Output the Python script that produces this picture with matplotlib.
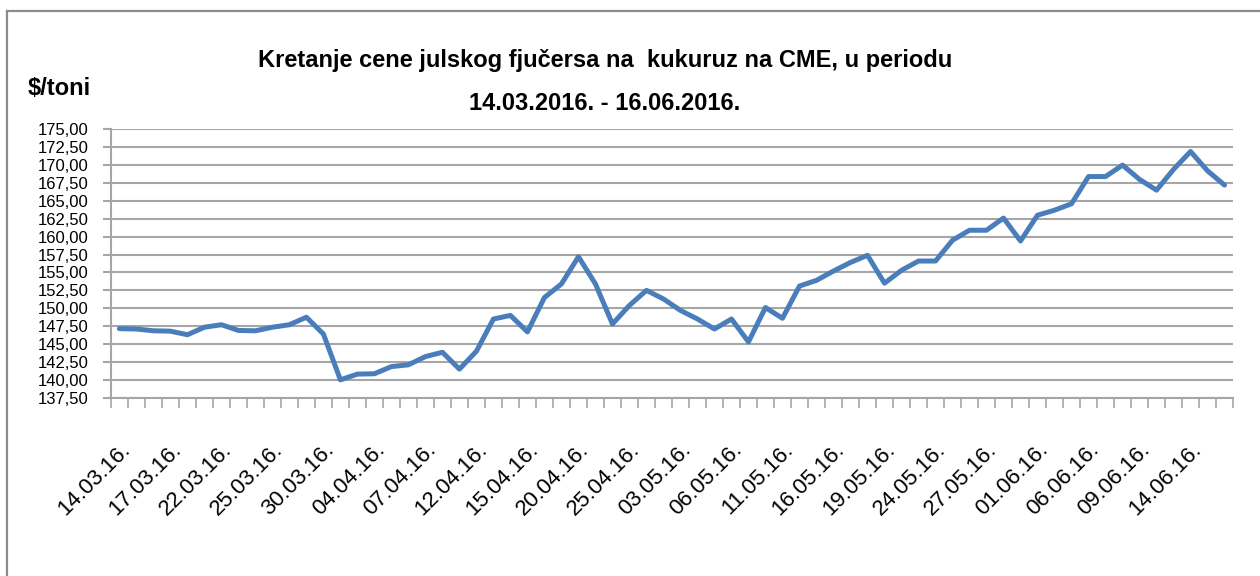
"""Line chart of the July corn futures price on CME, 14.03.2016 - 16.06.2016."""

import numpy as np
import matplotlib
matplotlib.use("Agg")
import matplotlib.pyplot as plt
from matplotlib.ticker import FixedLocator, FuncFormatter
from matplotlib.lines import Line2D

# Trading days (dd.mm.yy.)
dates = ["14.03.16.", "15.03.16.", "16.03.16.", "17.03.16.", "18.03.16.", "21.03.16.",
         "22.03.16.", "23.03.16.", "24.03.16.", "25.03.16.", "28.03.16.", "29.03.16.",
         "30.03.16.", "31.03.16.", "01.04.16.", "04.04.16.", "05.04.16.", "06.04.16.",
         "07.04.16.", "08.04.16.", "11.04.16.", "12.04.16.", "13.04.16.", "14.04.16.",
         "15.04.16.", "18.04.16.", "19.04.16.", "20.04.16.", "21.04.16.", "22.04.16.",
         "25.04.16.", "27.04.16.", "29.04.16.", "03.05.16.", "04.05.16.", "05.05.16.",
         "06.05.16.", "09.05.16.", "10.05.16.", "11.05.16.", "12.05.16.", "13.05.16.",
         "16.05.16.", "17.05.16.", "18.05.16.", "19.05.16.", "20.05.16.", "23.05.16.",
         "24.05.16.", "25.05.16.", "26.05.16.", "27.05.16.", "30.05.16.", "31.05.16.",
         "01.06.16.", "02.06.16.", "03.06.16.", "06.06.16.", "07.06.16.", "08.06.16.",
         "09.06.16.", "10.06.16.", "13.06.16.", "14.06.16.", "15.06.16.", "16.06.16."]

# Price in $/ton
prices = [147.15, 147.1, 146.85, 146.8, 146.3, 147.35, 147.7, 146.9, 146.85, 147.35,
          147.7, 148.75, 146.4, 140.0, 140.8, 140.85, 141.85, 142.1, 143.25, 143.85,
          141.5, 144.0, 148.5, 149.0, 146.7, 151.5, 153.4, 157.2, 153.4, 147.8,
          150.4, 152.5, 151.3, 149.7, 148.5, 147.1, 148.5, 145.3, 150.1, 148.6,
          153.1, 153.9, 155.2, 156.4, 157.4, 153.5, 155.3, 156.6, 156.6, 159.5,
          160.9, 160.9, 162.6, 159.4, 163.0, 163.7, 164.6, 168.4, 168.4, 170.0,
          168.0, 166.5, 169.4, 171.9, 169.2, 167.2]

y_ticks = np.arange(137.5, 175.01, 2.5)

title = "Kretanje cene julskog fjučersa na  kukuruz na CME, u periodu\n14.03.2016. - 16.06.2016."
y_unit = "$/toni"

plt.rcParams['font.family'] = ['Liberation Sans', 'DejaVu Sans']

fig = plt.figure(figsize=(12.6, 5.76), dpi=100)
ax = fig.add_axes([0.088, 0.3095, 0.8906, 0.466])

x = np.arange(len(prices))
ax.plot(x, prices, color='#4a7ebb', linewidth=3.6, solid_joinstyle='round',
        solid_capstyle='round', zorder=3)

# Axis ranges and grid
ax.set_xlim(-0.5, len(prices) - 0.5)
ax.set_ylim(y_ticks[0], y_ticks[-1])
ax.yaxis.set_major_locator(FixedLocator(y_ticks))
ax.yaxis.set_major_formatter(FuncFormatter(lambda v, p: f"{v:.2f}".replace('.', ',')))
ax.grid(axis='y', color='#a6a6a6', linewidth=1.5)
ax.set_axisbelow(True)

# Category labels every third day, tick marks between categories
ax.set_xticks(x[::3])
ax.set_xticklabels(dates[::3], rotation=45, ha='right', va='top', rotation_mode='anchor')
ax.set_xticks(np.arange(-0.5, len(prices)), minor=True)
ax.tick_params(axis='x', which='major', length=0, pad=30, labelsize=16)
ax.tick_params(axis='x', which='minor', length=7, width=1.2, color='#a6a6a6', direction='out')
ax.tick_params(axis='y', length=6, width=1.5, color='#a6a6a6', labelsize=12, pad=10)

for side in ['top', 'right']:
    ax.spines[side].set_visible(False)
for side in ['left', 'bottom']:
    ax.spines[side].set_color('#a6a6a6')
    ax.spines[side].set_linewidth(1.5)

# Title and unit label
fig.text(0.48, 0.858, title, ha='center', va='center', fontsize=17, fontweight='bold',
         linespacing=2.1)
fig.text(0.047, 0.847, y_unit, ha='center', va='center', fontsize=17, fontweight='bold')

# Outer chart frame (left and top edges)
fig.add_artist(Line2D([0.0056, 0.0056], [0.0, 0.981], color='#8c8c8c', linewidth=1.6))
fig.add_artist(Line2D([0.0056, 1.0], [0.981, 0.981], color='#8c8c8c', linewidth=1.6))

fig.savefig('out.png', dpi=100)
